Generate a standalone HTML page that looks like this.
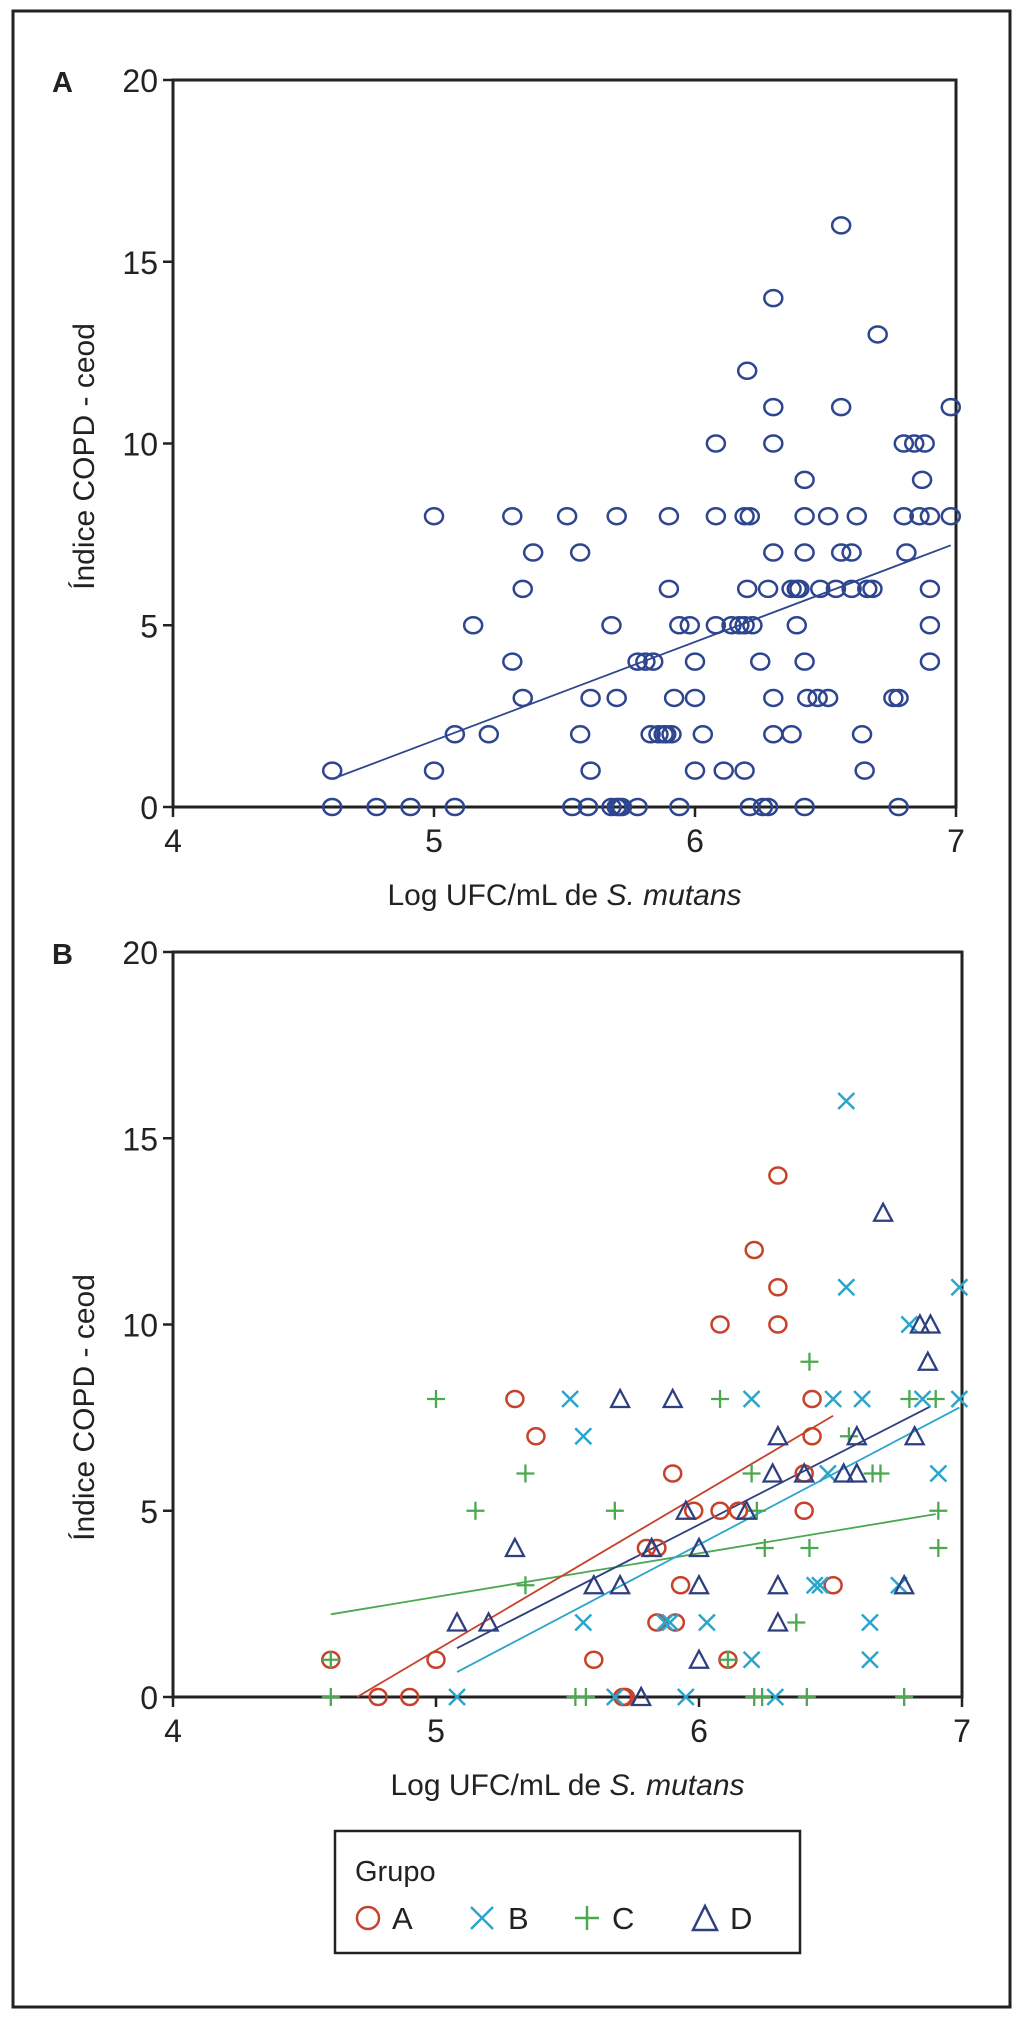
<!DOCTYPE html>
<html><head><meta charset="utf-8"><style>
body{margin:0;background:#fff}
svg{display:block}
text{font-family:"Liberation Sans",sans-serif;fill:#222}
</style></head><body>
<svg id="fig" width="1025" height="2025" viewBox="0 0 1025 2025" xmlns="http://www.w3.org/2000/svg">
<rect x="13" y="11" width="997" height="1996" fill="none" stroke="#222" stroke-width="3"/>
<g id="panelA"></g>
<g id="panelB"></g>
<g>
<rect x="335" y="1831" width="465" height="122" fill="#fff" stroke="#222" stroke-width="2.5"/>
<text x="355" y="1881" font-size="29">Grupo</text>
<g><ellipse cx="368" cy="1918" rx="11" ry="11" fill="none" stroke="#c8412a" stroke-width="2.5"/><text x="392" y="1929" font-size="31">A</text></g>
<g><path d="M471 1907 L493 1929 M493 1907 L471 1929" stroke="#2aa5cc" stroke-width="2.5"/><text x="508" y="1929" font-size="31">B</text></g>
<g><path d="M575 1918 L599 1918 M587 1906 L587 1930" stroke="#4aa84e" stroke-width="2.5"/><text x="612" y="1929" font-size="31">C</text></g>
<g><path d="M693 1930 L705 1906 L717 1930 Z" fill="none" stroke="#2e3f80" stroke-width="2.5"/><text x="730" y="1929" font-size="31">D</text></g>
</g>
</svg>
<script>
// Panel A data
const aX0=[4.61,4.78,4.91,5.08,5.53,5.59,5.68,5.70,5.71,5.72,5.78,5.94,6.21,6.26,6.28,6.42,6.78];
const aX1=[4.61,5.00,5.60,6.00,6.11,6.19,6.65];
const aX2=[5.08,5.21,5.56,5.83,5.86,5.88,5.89,5.91,6.03,6.30,6.37,6.64];
const aX3=[5.34,5.60,5.70,5.92,6.00,6.30,6.43,6.47,6.51,6.76,6.78];
const aX4=[5.30,5.78,5.81,5.84,6.00,6.25,6.42,6.90];
const aX5=[5.15,5.68,5.94,5.98,6.08,6.14,6.17,6.19,6.22,6.39,6.90];
const aX6=[5.34,5.90,6.20,6.28,6.37,6.39,6.40,6.48,6.54,6.60,6.66,6.68,6.90];
const aX7=[5.38,5.56,6.30,6.42,6.56,6.60,6.81];
const aX8=[5.00,5.30,5.51,5.70,5.90,6.08,6.19,6.21,6.42,6.51,6.62,6.80,6.86,6.90,6.98];
const aX9=[6.42,6.87];
const aX10=[6.08,6.30,6.80,6.84,6.88];
const aX11=[6.30,6.56,6.98];
const aX12=[6.20];
const aX13=[6.70];
const aX14=[6.30];
const aX16=[6.56];
const aRowsY=[0,1,2,3,4,5,6,7,8,9,10,11,12,13,14,16];
const aRowsX=[aX0,aX1,aX2,aX3,aX4,aX5,aX6,aX7,aX8,aX9,aX10,aX11,aX12,aX13,aX14,aX16];
const aFitX=[4.61,6.98];
const aFitY=[0.77,7.2];
// Panel B data
const gAx=[4.60,4.78,4.90,5.00,5.30,5.38,5.60,5.71,5.72,5.80,5.84,5.84,5.90,5.91,5.93,5.98,6.08,6.08,6.11,6.15,6.21,6.30,6.30,6.30,6.40,6.40,6.43,6.43,6.51];
const gAy=[1,0,0,1,8,7,1,0,0,4,4,2,6,2,3,5,10,5,1,5,12,14,11,10,6,5,8,7,3];
const gBx=[5.08,5.51,5.56,5.56,5.68,5.87,5.89,5.95,6.03,6.20,6.20,6.29,6.44,6.46,6.49,6.51,6.56,6.56,6.62,6.65,6.65,6.76,6.80,6.85,6.91,6.99,6.99];
const gBy=[0,8,7,2,0,2,2,0,2,8,1,0,3,3,6,8,16,11,8,2,1,3,10,8,6,11,8];
const gCx=[4.60,4.60,5.00,5.15,5.34,5.34,5.53,5.57,5.68,6.08,6.11,6.20,6.22,6.21,6.24,6.25,6.37,6.41,6.42,6.42,6.57,6.66,6.69,6.78,6.80,6.90,6.91,6.91];
const gCy=[0,1,8,5,6,3,0,0,5,8,1,6,5,0,0,4,2,0,9,4,7,6,6,0,8,8,5,4];
const gDx=[5.08,5.20,5.30,5.60,5.70,5.70,5.78,5.82,5.90,5.95,6.00,6.00,6.00,6.18,6.28,6.30,6.30,6.30,6.40,6.55,6.60,6.60,6.70,6.78,6.82,6.84,6.88,6.87];
const gDy=[2,2,4,3,3,8,0,4,8,5,4,3,1,5,6,7,3,2,6,6,6,7,13,3,7,10,10,9];
const fitAx=[4.70,6.51], fitAy=[0,7.55];
const fitBx=[5.08,6.99], fitBy=[0.67,7.77];
const fitCx=[4.60,6.90], fitCy=[2.22,4.91];
const fitDx=[5.08,6.88], fitDy=[1.31,7.8];
const xTicks=[4,5,6,7];
const yTicks=[0,5,10,15,20];

const NS='http://www.w3.org/2000/svg';
function mk(parent,tag,attrs){const e=document.createElementNS(NS,tag);for(const k in attrs)e.setAttribute(k,attrs[k]);parent.appendChild(e);return e;}

function axes(g,L,R,T,B,label,pfx){
  const sx=v=>L+(v-4)/3*(R-L), sy=v=>B-(v/20)*(B-T);
  const frame=mk(g,'rect',{x:L,y:T,width:R-L,height:B-T,fill:'none',stroke:'#222','stroke-width':3});
  
  
  xTicks.forEach(t=>{
    const l=mk(g,'line',{x1:sx(t),x2:sx(t),y1:B,y2:B+10,stroke:'#222','stroke-width':2.5});
    
    
    const tx=mk(g,'text',{x:sx(t),y:B+45,'font-size':32,'text-anchor':'middle'});tx.textContent=t;
    
    
  });
  yTicks.forEach(t=>{
    const l=mk(g,'line',{x1:L-10,x2:L,y1:sy(t),y2:sy(t),stroke:'#222','stroke-width':2.5});
    
    
    const tx=mk(g,'text',{x:L-15,y:sy(t)+12,'font-size':32,'text-anchor':'end'});tx.textContent=t;
    
    
  });
  const pl=mk(g,'text',{x:52,y:T+12,'font-size':29,'font-weight':'bold'});pl.textContent=label;
  
  
  const yt=mk(g,'text',{x:0,y:0,'font-size':30,'text-anchor':'middle',transform:`translate(94,${(T+B)/2+(pfx==='a'?13:83)}) rotate(-90)`});
  yt.textContent='Índice COPD - ceod';
  
  
  const xt=mk(g,'text',{x:(L+R)/2,y:B+98,'font-size':30,'text-anchor':'middle'});
  xt.innerHTML='Log UFC/mL de <tspan font-style="italic">S. mutans</tspan>';
  
  
  return {sx,sy};
}

// Panel A
const gA=document.getElementById('panelA');
const A=axes(gA,173,956,80,807,'A','a');
aRowsX.forEach((row,i)=>row.forEach(x=>{
  const c=mk(gA,'ellipse',{cx:A.sx(x),cy:A.sy(aRowsY[i]),rx:9,ry:8,fill:'none',stroke:'#2e4590','stroke-width':2.5});
  
  
}));
const fa=mk(gA,'line',{x1:A.sx(aFitX[0]),y1:A.sy(aFitY[0]),x2:A.sx(aFitX[1]),y2:A.sy(aFitY[1]),stroke:'#2e4590','stroke-width':1.8});



// Panel B
const gB=document.getElementById('panelB');
const Bx=axes(gB,173,962,952,1697,'B','b');
const red='#c8412a',cyan='#2aa5cc',green='#4aa84e',navy='#2e3f80';
function marker(kind,x,y){
  const X=Bx.sx(x),Y=Bx.sy(y);let e;
  if(kind==='a') e=mk(gB,'ellipse',{cx:X,cy:Y,rx:8.5,ry:8,fill:'none',stroke:red,'stroke-width':2.5});
  if(kind==='b') e=mk(gB,'path',{d:`M${X-8} ${Y-8}L${X+8} ${Y+8}M${X+8} ${Y-8}L${X-8} ${Y+8}`,stroke:cyan,'stroke-width':2.5});
  if(kind==='c') e=mk(gB,'path',{d:`M${X-9} ${Y}L${X+9} ${Y}M${X} ${Y-9}L${X} ${Y+9}`,stroke:green,'stroke-width':2.3});
  if(kind==='d') e=mk(gB,'path',{d:`M${X-9} ${Y+8}L${X} ${Y-9}L${X+9} ${Y+8}Z`,fill:'none',stroke:navy,'stroke-width':2.3});
  
  
}
[[fitCx,fitCy,green,'c'],[fitAx,fitAy,red,'a'],[fitBx,fitBy,cyan,'b'],[fitDx,fitDy,navy,'d']].forEach(f=>{
  const l=mk(gB,'line',{x1:Bx.sx(f[0][0]),y1:Bx.sy(f[1][0]),x2:Bx.sx(f[0][1]),y2:Bx.sy(f[1][1]),stroke:f[2],'stroke-width':1.8});
  
  
});
gAx.forEach((x,i)=>marker('a',x,gAy[i]));
gBx.forEach((x,i)=>marker('b',x,gBy[i]));
gCx.forEach((x,i)=>marker('c',x,gCy[i]));
gDx.forEach((x,i)=>marker('d',x,gDy[i]));
</script>
</body></html>
